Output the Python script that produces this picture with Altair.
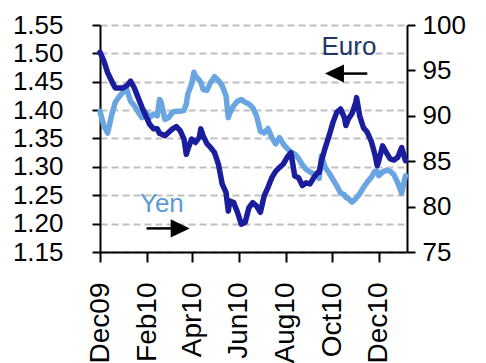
import altair as alt
import pandas as pd

# Sampled roughly every five days, Dec 2009 - Jan 2011, plus the sharper turns
dates = [
    "2009-12-01", "2009-12-06", "2009-12-11", "2009-12-16", "2009-12-21", "2009-12-26", "2009-12-31",
    "2010-01-05", "2010-01-10", "2010-01-15", "2010-01-20", "2010-01-25", "2010-01-30",
    "2010-02-04", "2010-02-09", "2010-02-14", "2010-02-17", "2010-02-19", "2010-02-24",
    "2010-03-01", "2010-03-06", "2010-03-11", "2010-03-16", "2010-03-21", "2010-03-24", "2010-03-26",
    "2010-03-31", "2010-04-03",
    "2010-04-05", "2010-04-10", "2010-04-12", "2010-04-15", "2010-04-20", "2010-04-25", "2010-04-30",
    "2010-05-05", "2010-05-10", "2010-05-15", "2010-05-18", "2010-05-20", "2010-05-25", "2010-05-30",
    "2010-06-04", "2010-06-09", "2010-06-14", "2010-06-19", "2010-06-24", "2010-06-29",
    "2010-07-04", "2010-07-09", "2010-07-14", "2010-07-19", "2010-07-24", "2010-07-29",
    "2010-08-03", "2010-08-08", "2010-08-13", "2010-08-18", "2010-08-23", "2010-08-28",
    "2010-09-02", "2010-09-07", "2010-09-12", "2010-09-14", "2010-09-17", "2010-09-22", "2010-09-27",
    "2010-10-02", "2010-10-07", "2010-10-12", "2010-10-17", "2010-10-19", "2010-10-22", "2010-10-27",
    "2010-11-01", "2010-11-02", "2010-11-06", "2010-11-11", "2010-11-16", "2010-11-21", "2010-11-26",
    "2010-11-29",
    "2010-12-01", "2010-12-06", "2010-12-11", "2010-12-16", "2010-12-21", "2010-12-26", "2010-12-31",
    "2011-01-05",
]

# EUR/USD, left axis
euro = [
    1.502, 1.487, 1.466, 1.452, 1.439, 1.439, 1.439,
    1.443, 1.451, 1.439, 1.422, 1.405, 1.390,
    1.375, 1.367, 1.367, 1.359, 1.358, 1.355,
    1.361, 1.367, 1.371, 1.364, 1.349, 1.322, 1.331,
    1.349, 1.346,
    1.343, 1.352, 1.367, 1.355, 1.341, 1.334, 1.325,
    1.305, 1.270, 1.255, 1.222, 1.240, 1.237, 1.220,
    1.199, 1.202, 1.228, 1.237, 1.231, 1.220,
    1.249, 1.264, 1.281, 1.292, 1.299, 1.305,
    1.317, 1.325, 1.284, 1.281, 1.267, 1.272,
    1.270, 1.281, 1.290, 1.290, 1.311, 1.334, 1.355,
    1.378, 1.396, 1.402, 1.387, 1.373, 1.384, 1.394,
    1.414, 1.422, 1.390, 1.369, 1.361, 1.346, 1.322,
    1.302,
    1.310, 1.337, 1.325, 1.314, 1.312, 1.317, 1.334,
    1.311,
]

# USD/JPY, right axis
yen = [
    90.5, 88.9, 88.1, 90.0, 91.5, 92.1, 92.6,
    92.9, 91.6, 91.1, 90.4, 89.8, 90.4,
    89.8, 90.2, 90.0, 91.8, 91.5, 89.6,
    89.8, 90.4, 90.5, 90.5, 90.6, 91.3, 92.4,
    93.5, 94.8,
    94.4, 93.9, 93.7, 92.9, 92.8, 93.7, 94.3,
    93.9, 93.3, 92.2, 89.8, 90.3, 91.1, 91.6,
    91.8, 91.5, 91.3, 90.9, 90.0, 88.3,
    88.1, 88.6, 87.6, 86.9, 87.6, 86.9,
    86.4, 86.0, 85.8, 85.3, 84.6, 84.1,
    83.8, 83.6, 83.4, 83.1, 85.6, 84.3, 83.7,
    83.0, 82.3, 81.5, 81.3, 81.0, 80.9, 80.5,
    80.9, 81.0, 81.4, 82.1, 82.7, 83.2, 83.9,
    83.9,
    83.4, 83.8, 84.0, 83.9, 83.5, 82.6, 81.5,
    83.4,
]

euro_ticks = [1.15, 1.20, 1.25, 1.30, 1.35, 1.40, 1.45, 1.50, 1.55]
yen_ticks = [75, 80, 85, 90, 95, 100]
month_ticks = [(2009, 12), (2010, 2), (2010, 4), (2010, 6), (2010, 8), (2010, 10), (2010, 12)]

# Series labels and their arrows, placed on the Euro scale
label_text = ["Euro", "Yen"]
label_date = ["2010-10-23", "2010-02-20"]
label_level = [1.4967, 1.2208]
label_color = ["#203864", "#5B9BD5"]

arrow_start = ["2010-11-16", "2010-01-31"]
arrow_end = ["2010-10-11", "2010-03-11"]
arrow_level = [1.4644, 1.1916]
head_date = ["2010-10-04", "2010-03-16"]
head_shape = ["M-1,0L1,-0.95L1,0.95Z", "M1,0L-1,-0.95L-1,0.95Z"]

FONT = "Liberation Sans"
EURO_COLOR = "#1B1E9C"
YEN_COLOR = "#69A5E1"

series = pd.DataFrame({"date": pd.to_datetime(dates), "euro": euro, "yen": yen})
labels = pd.DataFrame({"date": pd.to_datetime(label_date), "euro": label_level,
                       "text": label_text, "color": label_color})
shafts = pd.DataFrame({"date": pd.to_datetime(arrow_start), "date2": pd.to_datetime(arrow_end),
                       "euro": arrow_level})
heads = pd.DataFrame({"date": pd.to_datetime(head_date), "euro": arrow_level, "shape": head_shape})

x_enc = alt.X(
    "date:T",
    scale=alt.Scale(domain=[alt.DateTime(year=2009, month=12, date=1),
                            alt.DateTime(year=2011, month=1, date=7)]),
    axis=alt.Axis(title=None, values=[alt.DateTime(year=y, month=m, date=1) for y, m in month_ticks],
                  format="%b%y", labelAngle=-90, labelFontSize=28, tickSize=10, labelPadding=20,
                  grid=False),
)

euro_y = alt.Y(
    "euro:Q",
    scale=alt.Scale(domain=[1.15, 1.55], nice=False, zero=False),
    axis=alt.Axis(orient="left", title=None, values=euro_ticks, format=".2f", grid=True,
                  gridDash=[7, 4], gridColor="#BFBFBF", gridWidth=2, tickSize=8,
                  labelPadding=29, zindex=0),
)

yen_y = alt.Y(
    "yen:Q",
    scale=alt.Scale(domain=[75, 100], nice=False, zero=False),
    axis=alt.Axis(orient="right", title=None, values=yen_ticks, grid=False, tickSize=8,
                  labelPadding=7),
)

yen_line = alt.Chart(series).mark_line(
    color=YEN_COLOR, strokeWidth=5.5, strokeJoin="round", strokeCap="round"
).encode(x=x_enc, y=yen_y)

euro_line = alt.Chart(series).mark_line(
    color=EURO_COLOR, strokeWidth=5.5, strokeJoin="round", strokeCap="round"
).encode(x=x_enc, y=euro_y)

label_marks = alt.Chart(labels).mark_text(
    font=FONT, fontSize=26, align="center", baseline="alphabetic"
).encode(x=x_enc, y=euro_y, text="text:N", color=alt.Color("color:N", scale=None))

shaft_marks = alt.Chart(shafts).mark_rule(color="black", strokeWidth=2.5).encode(
    x=x_enc, x2="date2:T", y=euro_y
)

head_marks = alt.Chart(heads).mark_point(
    filled=True, color="black", opacity=1, size=361, strokeWidth=0
).encode(x=x_enc, y=euro_y, shape=alt.Shape("shape:N", scale=None))

euro_group = alt.layer(euro_line, shaft_marks, head_marks, label_marks)

chart = (
    alt.layer(yen_line, euro_group)
    .resolve_scale(y="independent")
    .properties(
        width=307,
        height=227,
        padding={"left": 100, "top": 25, "right": 79, "bottom": 111},
        autosize=alt.AutoSizeParams(type="none"),
    )
    .configure_view(stroke=None)
    .configure_axis(
        domainColor="black", domainWidth=2, tickColor="black", tickWidth=2,
        labelFont=FONT, labelFontSize=26, labelColor="black",
    )
)

chart.save("out.html", embed_options={"renderer": "svg", "actions": False})
